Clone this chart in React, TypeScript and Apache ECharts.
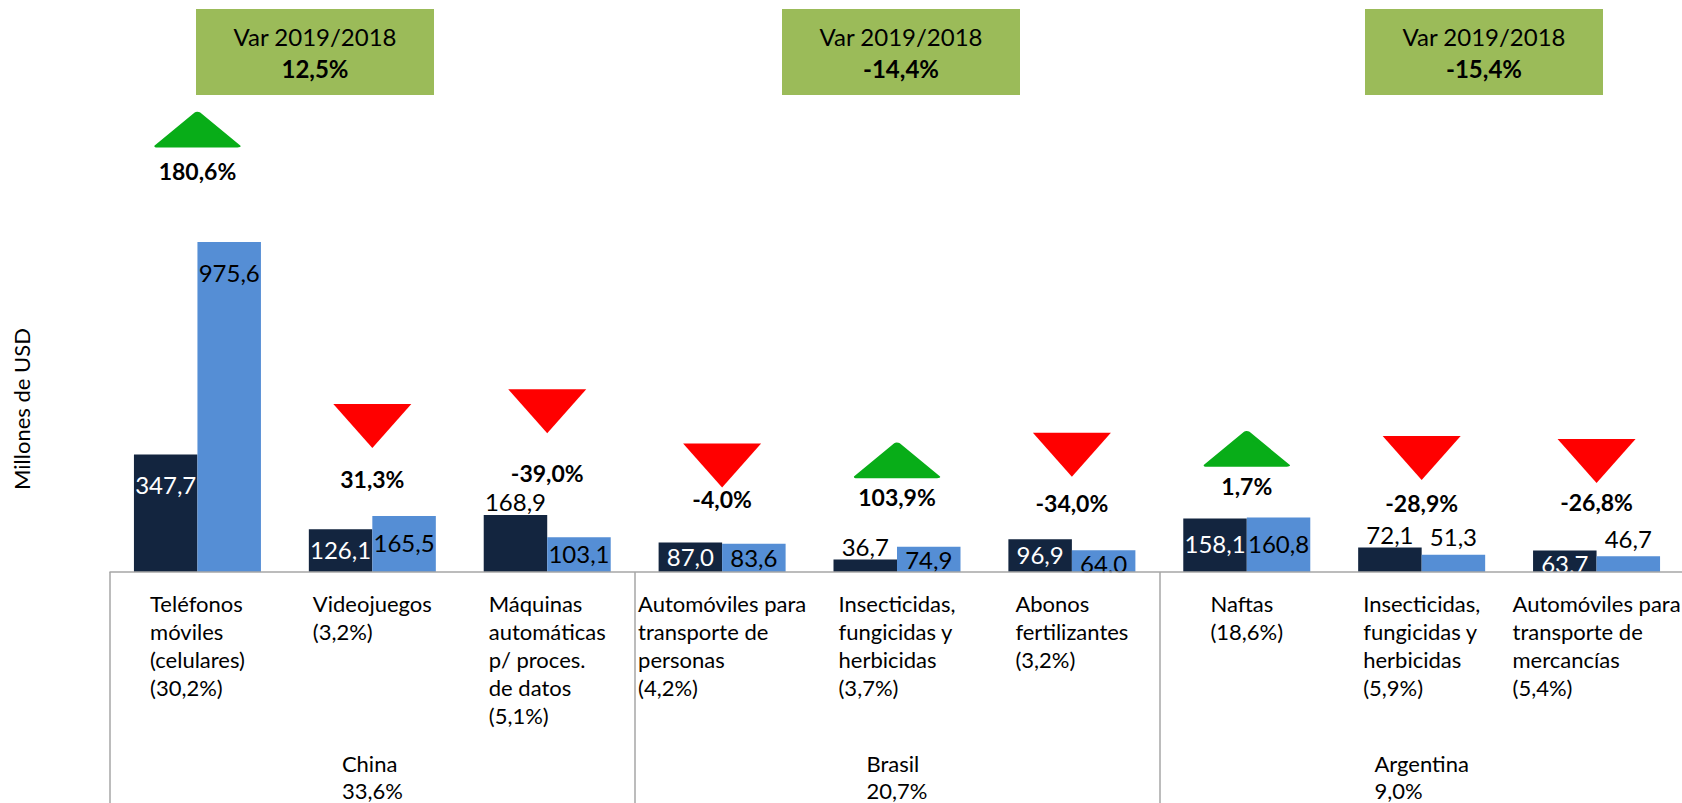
import { useEffect, useRef } from 'react';
import * as echarts from 'echarts';

// ---------- data ----------
const productNames = [
  'Teléfonos\nmóviles\n(celulares)',
  'Videojuegos',
  'Máquinas\nautomáticas\np/ proces.\nde datos',
  'Automóviles para\ntransporte de\npersonas',
  'Insecticidas,\nfungicidas y\nherbicidas',
  'Abonos\nfertilizantes',
  'Naftas',
  'Insecticidas,\nfungicidas y\nherbicidas',
  'Automóviles para\ntransporte de\nmercancías',
];
const productShares = [30.2, 3.2, 5.1, 4.2, 3.7, 3.2, 18.6, 5.9, 5.4];
const values2018 = [347.7, 126.1, 168.9, 87.0, 36.7, 96.9, 158.1, 72.1, 63.7];
const values2019 = [975.6, 165.5, 103.1, 83.6, 74.9, 64.0, 160.8, 51.3, 46.7];
const variation = [180.6, 31.3, -39.0, -4.0, 103.9, -34.0, 1.7, -28.9, -26.8];
const arrowUp = [true, false, false, false, true, false, true, false, false];

const countries = ['China', 'Brasil', 'Argentina'];
const countryShares = [33.6, 20.7, 9.0];
const countryVariation = [12.5, -14.4, -15.4];

// ---------- layout (not data) ----------
const arrowLevels = [1308, 432, 475, 315, 330, 347, 364, 337, 328];
const variationLabelLevels = [1186, 275, 293, 216, 222, 204, 254, 204, 207];
const darkLabelInside = [true, true, false, true, false, true, true, false, true];
const lightLabelInside = [true, true, true, true, true, true, true, false, false];
const boxLeft = [196, 782, 1365];

const FONT = 'Lato, "Open Sans", sans-serif';
const DARK = '#13253F';
const LIGHT = '#558ED5';
const GREEN = '#08AD18';
const RED = '#FF0000';
const BOX = '#9BBB59';
const LINE = '#A6A6A6';

const fmt = (v: number) => v.toFixed(1).replace('.', ',');

export default function App() {
  const ref = useRef<HTMLDivElement>(null);

  useEffect(() => {
    if (!ref.current) return;
    const chart = echarts.init(ref.current, null, { renderer: 'svg' });

    const productLabels = productNames.map((n, i) => `${n}\n(${fmt(productShares[i])}%)`);
    const countryLabels = countries.map((c, i) => `${c}\n${fmt(countryShares[i])}%`);

    const insideDist = (v: number) => Math.min(30, Math.max(13, v * 0.16)) - 12;

    const barItems = (vals: number[], inside: boolean[], inColor: string, aboveDist: number) =>
      vals.map((v, i) => ({
        value: v,
        label: inside[i]
          ? { position: 'insideTop', distance: insideDist(v), color: inColor }
          : { position: 'top', distance: aboveDist, color: '#000' },
      }));

    const arrowData = arrowLevels.map((lvl, i) => ({
      value: [i, lvl],
      symbol: 'triangle',
      symbolRotate: arrowUp[i] ? 0 : 180,
      symbolSize: arrowUp[i] ? [80, 33] : [78, 44],
      itemStyle: arrowUp[i]
        ? { color: GREEN, borderColor: GREEN, borderWidth: 4, borderJoin: 'round', opacity: 1 }
        : { color: RED, borderWidth: 0, opacity: 1 },
    }));

    const varLabelData = variationLabelLevels.map((lvl, i) => ({ value: [i, lvl] }));

    const graphics: any[] = [
      {
        type: 'rect',
        z: 5,
        silent: true,
        shape: { x: 0, y: 572.5, width: 1700, height: 260 },
        style: { fill: '#fff' },
      },
      {
        type: 'text',
        z: 20,
        x: 21,
        y: 409,
        rotation: Math.PI / 2,
        style: {
          text: 'Millones de USD',
          fill: '#000',
          fontSize: 22,
          fontFamily: FONT,
          align: 'center',
          verticalAlign: 'middle',
          textAlign: 'center',
          textVerticalAlign: 'middle',
        },
      },
    ];
    boxLeft.forEach((x, i) => {
      graphics.push({
        type: 'rect',
        z: 20,
        shape: { x, y: 9, width: 238, height: 86 },
        style: { fill: BOX },
      });
      graphics.push({
        type: 'text',
        z: 21,
        x: x + 119,
        y: 36,
        style: {
          text: 'Var 2019/2018',
          fill: '#000',
          fontSize: 24,
          fontFamily: FONT,
          align: 'center',
          verticalAlign: 'middle',
          textAlign: 'center',
          textVerticalAlign: 'middle',
        },
      });
      graphics.push({
        type: 'text',
        z: 21,
        x: x + 119,
        y: 68,
        style: {
          text: `${fmt(countryVariation[i])}%`,
          fill: '#000',
          fontSize: 24,
          fontWeight: 'bold',
          fontFamily: FONT,
          align: 'center',
          verticalAlign: 'middle',
          textAlign: 'center',
          textVerticalAlign: 'middle',
        },
      });
    });

    const option: any = {
      animation: false,
      backgroundColor: '#fff',
      textStyle: { fontFamily: FONT },
      grid: {
        left: 110,
        top: 14,
        width: 1574,
        height: 558,
        containLabel: false,
        outerBoundsMode: 'none',
      },
      xAxis: [
        {
          type: 'category',
          data: productLabels,
          position: 'bottom',
          z: 10,
          axisLine: { show: true, lineStyle: { color: LINE, width: 1.5 } },
          axisTick: { show: false },
          splitLine: { show: false },
          axisLabel: {
            interval: 0,
            margin: 17,
            hideOverlap: false,
            color: '#000',
            fontSize: 22,
            lineHeight: 28,
            fontFamily: FONT,
            formatter: (v: string) => `{a|${v}}`,
            rich: {
              a: { align: 'left', fontSize: 22, lineHeight: 28, fontFamily: FONT, color: '#000' },
            },
          },
        },
        {
          type: 'category',
          data: countryLabels,
          position: 'bottom',
          z: 10,
          axisLine: { show: false },
          axisTick: { show: true, length: 240, interval: 0, lineStyle: { color: LINE, width: 1.5 } },
          splitLine: { show: false },
          axisLabel: {
            interval: 0,
            margin: 178,
            hideOverlap: false,
            color: '#000',
            fontSize: 22,
            lineHeight: 27,
            fontFamily: FONT,
            formatter: (v: string) => `{a|${v}}`,
            rich: {
              a: { align: 'left', fontSize: 22, lineHeight: 27, fontFamily: FONT, color: '#000' },
            },
          },
        },
      ],
      yAxis: { type: 'value', min: 0, max: 1650, show: false },
      series: [
        {
          name: '2018',
          type: 'bar',
          xAxisIndex: 0,
          barWidth: 63.5,
          barGap: '0%',
          itemStyle: { color: DARK },
          label: {
            show: true,
            fontSize: 24,
            fontFamily: FONT,
            formatter: (p: any) => fmt(p.value),
          },
          data: barItems(values2018, darkLabelInside, '#fff', 1),
        },
        {
          name: '2019',
          type: 'bar',
          xAxisIndex: 0,
          barWidth: 63.5,
          barGap: '0%',
          itemStyle: { color: LIGHT },
          label: {
            show: true,
            fontSize: 24,
            fontFamily: FONT,
            formatter: (p: any) => fmt(p.value),
          },
          data: barItems(values2019, lightLabelInside, '#000', 6),
        },
        {
          name: 'arrows',
          type: 'scatter',
          xAxisIndex: 0,
          z: 3,
          itemStyle: { opacity: 1 },
          data: arrowData,
        },
        {
          name: 'variation',
          type: 'scatter',
          xAxisIndex: 0,
          z: 3,
          symbol: 'rect',
          symbolSize: 1,
          itemStyle: { color: 'rgba(0,0,0,0)', opacity: 1 },
          label: {
            show: true,
            position: 'inside',
            color: '#000',
            opacity: 1,
            fontSize: 23,
            fontWeight: 'bold',
            fontFamily: FONT,
            formatter: (p: any) => `${fmt(variation[p.dataIndex])}%`,
          },
          data: varLabelData,
        },
      ],
      graphic: graphics,
    };

    chart.setOption(option);
    return () => chart.dispose();
  }, []);

  return (
    <div
      ref={ref}
      style={{ position: 'absolute', left: 0, top: 0, width: 1682, height: 803, background: '#fff' }}
    />
  );
}
